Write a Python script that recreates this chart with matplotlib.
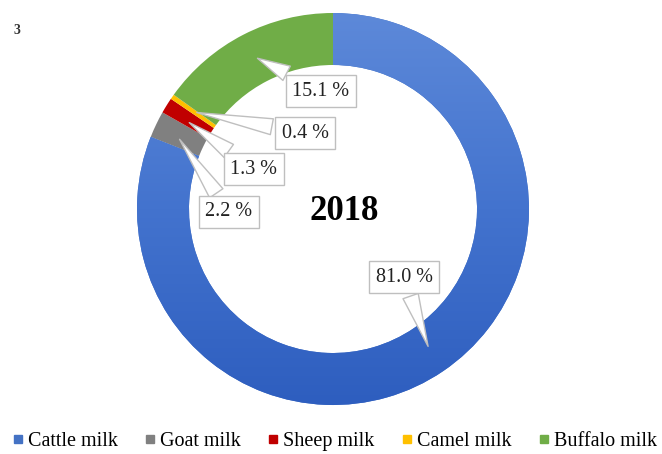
import matplotlib
matplotlib.use("Agg")
import matplotlib.pyplot as plt
from matplotlib.colors import LinearSegmentedColormap
from matplotlib.lines import Line2D
import numpy as np

plt.rcParams["font.family"] = ["Liberation Serif", "DejaVu Serif"]

# Milk production shares, 2018
CATEGORIES = ["Cattle milk", "Goat milk", "Sheep milk", "Camel milk", "Buffalo milk"]
SHARES = [81.0, 2.2, 1.3, 0.4, 15.1]
COLORS = ["#4472C4", "#808080", "#C00000", "#FFC000", "#70AD47"]
YEAR_LABEL = "2018"

W, H = 662, 454
CX, CY, R = 333, 209, 196
RING = 52

# callout layout in pixel coords from the top-left: (tip, box centre)
CALLOUTS = {
    "Cattle milk": ((429, 349), (404, 277)),
    "Goat milk": ((178, 137), (229, 212)),
    "Sheep milk": ((187, 121), (254, 169)),
    "Camel milk": ((194, 112), (305, 133)),
    "Buffalo milk": ((255, 57), (321, 91)),
}


def fy(y):
    return H - y


fig = plt.figure(figsize=(W / 100, H / 100), dpi=100)
ax = fig.add_axes([0, 0, 1, 1])

wedges, _ = ax.pie(SHARES, colors=COLORS, startangle=90, counterclock=False,
                   center=(CX, fy(CY)), radius=R,
                   wedgeprops=dict(width=RING, linewidth=0), frame=True)

# vertical shading on the cattle segment
blue_grad = LinearSegmentedColormap.from_list("blue", ["#5D89D9", "#4373CE", "#2E5EBF"])
grad = np.linspace(0, 1, 256).reshape(-1, 1)
img = ax.imshow(grad, cmap=blue_grad, aspect="auto", origin="upper",
                extent=(CX - R, CX + R, fy(CY) - R, fy(CY) + R),
                zorder=wedges[0].get_zorder() + 0.1)
img.set_clip_path(wedges[0])
ax.set_xlim(0, W)
ax.set_ylim(0, H)
ax.axis("off")

for cat, val in zip(CATEGORIES, SHARES):
    (tx, ty), (bx, by) = CALLOUTS[cat]
    ax.annotate(f"{val:.1f} %", xy=(tx, fy(ty)), xytext=(bx, fy(by)),
                ha="center", va="center", fontsize=14.5, color="#222222",
                bbox=dict(boxstyle="square,pad=0.32", fc="white", ec="#BFBFBF", lw=1),
                arrowprops=dict(arrowstyle="wedge,tail_width=0.8,shrink_factor=0.5",
                                fc="white", ec="#BFBFBF", lw=1),
                zorder=5)

ax.text(344, fy(212), YEAR_LABEL, ha="center", va="center",
        fontsize=25, fontweight="bold", color="black")

fig.text(13 / W, 1 - 30 / H, "3", fontsize=10, fontweight="bold",
         color="#333333", ha="left", va="center")

handles = [Line2D([0], [0], marker="s", linestyle="none", markersize=6,
                  markerfacecolor=c, markeredgecolor=c, label=lab)
           for c, lab in zip(COLORS, CATEGORIES)]
fig.legend(handles=handles, loc="center", bbox_to_anchor=(0.505, 1 - 441 / H),
           ncol=5, frameon=False, fontsize=14.5, handlelength=0.6,
           handletextpad=0.2, columnspacing=1.3, borderaxespad=0)

fig.savefig("out.png", dpi=100)
